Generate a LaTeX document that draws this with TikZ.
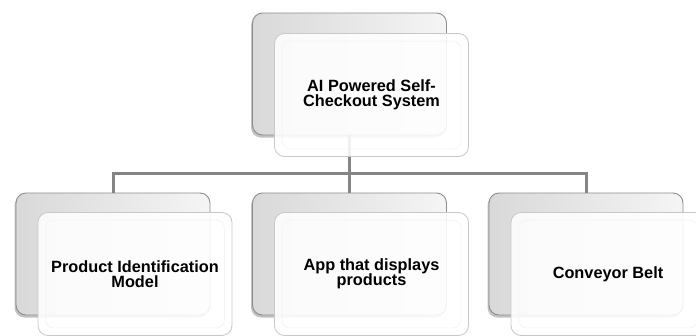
\documentclass[tikz,border=0pt]{standalone}
\usepackage{fontspec}
\setmainfont{Liberation Sans}
\usetikzlibrary{shadows}
\definecolor{linkgray}{HTML}{858585}
\definecolor{backedge}{HTML}{8C8C8C}
\definecolor{frontedge}{HTML}{C8C8C8}
\tikzset{
  x=1pt, y=-1pt,
  backbox/.style={rounded corners=10pt, draw=backedge, line width=0.9pt,
    left color=black!15, right color=black!4, shading angle=90,
    minimum width=194pt, minimum height=122pt, inner sep=0pt,
    drop shadow={shadow xshift=-1.5pt, shadow yshift=-2.5pt, opacity=0.4, fill=black!60}},
  frontbox/.style={rounded corners=10pt, draw=frontedge, line width=0.8pt,
    fill=white, fill opacity=0.88, text opacity=1,
    minimum width=194pt, minimum height=123pt, inner sep=0pt,
    align=center, font=\bfseries\fontsize{16.3}{15.5}\selectfont},
  innerglow/.style={rounded corners=8pt, draw=black!4, line width=0.8pt},
  link/.style={draw=linkgray, line width=3pt}
}
\begin{document}
\begin{tikzpicture}
\useasboundingbox (0,0) rectangle (696,335);

% rear cards
\node[backbox] (rootback) at (349.5,74) {};
\node[backbox] (leftback) at (113,254) {};
\node[backbox] (midback) at (349.5,254) {};
\node[backbox] (rightback) at (586,254) {};

% tree connectors
\coordinate (bus) at (0,173);
\draw[link] (rootback.south) -- (rootback.south |- bus);
\draw[link] (leftback.north) -- (leftback.north |- bus) -- (rightback.north |- bus) -- (rightback.north);
\draw[link] (midback.north |- bus) -- (midback.north);

% front cards with labels
\node[frontbox] (root) at (371.5,95) {AI Powered Self-\\Checkout System};
\node[frontbox] (product) at (135,274) {Product Identification\\Model};
\node[frontbox] (app) at (371.5,274) {App that displays\\products};
\node[frontbox] (belt) at (608,274) {Conveyor Belt};

% faint inner rims
\foreach \n in {root,product,app,belt}{
  \draw[innerglow] ([xshift=8pt,yshift=-8pt]\n.north west) rectangle ([xshift=-8pt,yshift=8pt]\n.south east);
}
\end{tikzpicture}
\end{document}
